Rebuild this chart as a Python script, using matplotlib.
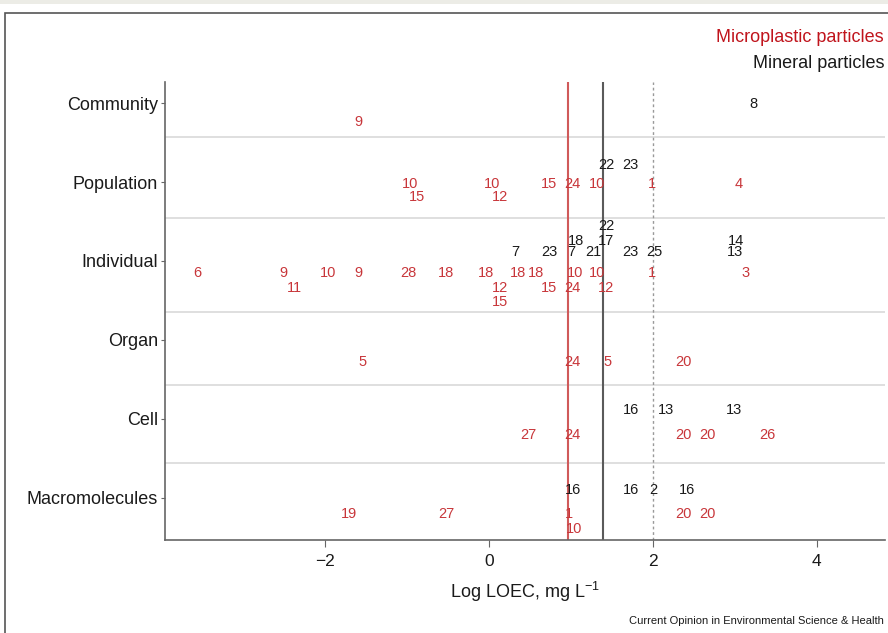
import matplotlib
matplotlib.use("Agg")
import matplotlib.pyplot as plt
from matplotlib.patches import Rectangle

plt.rcParams['font.family'] = ['Liberation Sans', 'DejaVu Sans']

# ---------------- data ----------------
categories = ["Macromolecules", "Cell", "Organ", "Individual", "Population", "Community"]
cat_pos = [1, 2, 3, 4, 5, 6]
separators = [1.44, 2.43, 3.35, 4.54, 5.57]

# thresholds (log LOEC, mg/L)
mp_threshold = 0.965
mineral_threshold = 1.39
ref_line = 2.0

# Mineral particles (black): reference id, log LOEC, y position
min_labels = ["8",
              "22", "23",
              "22", "18", "17", "14", "7", "23", "7", "21", "23", "25", "13",
              "16", "13", "13",
              "16", "16", "2", "16"]
min_x = [3.23,
         1.43, 1.72,
         1.43, 1.06, 1.43, 3.01, 0.32, 0.74, 1.01, 1.27, 1.72, 2.02, 3.00,
         1.73, 2.16, 2.99,
         1.02, 1.73, 2.01, 2.41]
min_y = [5.99,
         5.22, 5.22,
         4.44, 4.25, 4.25, 4.25, 4.11, 4.11, 4.11, 4.11, 4.11, 4.11, 4.11,
         2.11, 2.11, 2.11,
         1.10, 1.10, 1.10, 1.10]

# Microplastic particles (red)
mp_labels = ["9",
             "10", "10", "15", "24", "10", "1", "4", "15", "12",
             "6", "9", "10", "9", "28", "18", "18", "18", "18", "10", "10", "1", "3",
             "11", "12", "15", "24", "12", "15",
             "5", "24", "5", "20",
             "27", "24", "20", "20", "26",
             "19", "27", "1", "20", "20", "10"]
mp_x = [-1.59,
        -0.96, 0.04, 0.73, 1.02, 1.32, 1.99, 3.04, -0.88, 0.13,
        -3.55, -2.50, -1.96, -1.59, -0.98, -0.52, -0.04, 0.35, 0.57, 1.05, 1.32, 1.99, 3.13,
        -2.37, 0.13, 0.73, 1.02, 1.43, 0.13,
        -1.54, 1.02, 1.45, 2.37,
        0.48, 1.02, 2.37, 2.67, 3.40,
        -1.71, -0.52, 0.97, 2.37, 2.67, 1.04]
mp_y = [5.76,
        4.97, 4.97, 4.97, 4.97, 4.97, 4.97, 4.97, 4.81, 4.81,
        3.85, 3.85, 3.85, 3.85, 3.85, 3.85, 3.85, 3.85, 3.85, 3.85, 3.85, 3.85, 3.85,
        3.66, 3.66, 3.66, 3.66, 3.66, 3.48,
        2.72,  2.72, 2.72, 2.72,
        1.80, 1.80, 1.80, 1.80, 1.80,
        0.80, 0.80, 0.80, 0.80, 0.80, 0.61]

xticks = [-2, 0, 2, 4]

# ---------------- styles ----------------
RED = "#c8363a"
RED_TITLE = "#c0141c"
BLACK = "#1a1a1a"
GRAY = "#666666"

fig = plt.figure(figsize=(8.88, 6.33), dpi=100)
ax = fig.add_axes([165/888, 1-540/633, (885-165)/888, (540-82)/633])

ax.set_xlim(-3.95, 4.83)
ax.set_ylim(0.468, 6.266)

for s in separators:
    ax.axhline(s, color="#dcdcdc", lw=1.3, zorder=1)

ax.axvline(mp_threshold, color="#d05a5a", lw=1.5, zorder=2)
ax.axvline(mineral_threshold, color="#5a5a5a", lw=1.5, zorder=2)
ax.axvline(ref_line, color="#999999", lw=1.0, ls=(0, (2, 2)), zorder=2)

for lab, x, y in zip(min_labels, min_x, min_y):
    ax.text(x, y, lab, color=BLACK, fontsize=10.5, ha="center", va="center", zorder=3)
for lab, x, y in zip(mp_labels, mp_x, mp_y):
    ax.text(x, y, lab, color=RED, fontsize=10.5, ha="center", va="center", zorder=3)

ax.set_yticks(cat_pos)
ax.set_yticklabels(categories, fontsize=13, color=BLACK)
ax.set_xticks(xticks)
ax.set_xticklabels([f"\u2212{abs(t)}" if t < 0 else str(t) for t in xticks], fontsize=12.5, color=BLACK)
ax.tick_params(axis="y", length=3, color=GRAY, pad=2)
ax.tick_params(axis="x", length=5, color=GRAY, pad=5)

for side in ["top", "right"]:
    ax.spines[side].set_visible(False)
for side in ["left", "bottom"]:
    ax.spines[side].set_color(GRAY)
    ax.spines[side].set_linewidth(1.2)

ax.set_xlabel("Log LOEC, mg L$^{\\mathregular{-1}}$", fontsize=13, color=BLACK, labelpad=8)

fig.text(884/888, 1-37/633, "Microplastic particles", color=RED_TITLE, fontsize=13,
         ha="right", va="center")
fig.text(884/888, 1-64/633, "Mineral particles", color=BLACK, fontsize=13,
         ha="right", va="center")
fig.text(884/888, 1-621/633, "Current Opinion in Environmental Science & Health",
         color=BLACK, fontsize=8, ha="right", va="center")

# faint header band and outer frame
fig.patches.append(Rectangle((0, 1-4/633), 1.0, 4/633, transform=fig.transFigure,
                             facecolor="#ecece6", edgecolor="none"))
fig.patches.append(Rectangle((5/888, -0.01), 1.0, 1-13/633 + 0.01, transform=fig.transFigure,
                             fill=False, edgecolor="#555555", lw=1.2))

fig.savefig("out.png", dpi=100)
